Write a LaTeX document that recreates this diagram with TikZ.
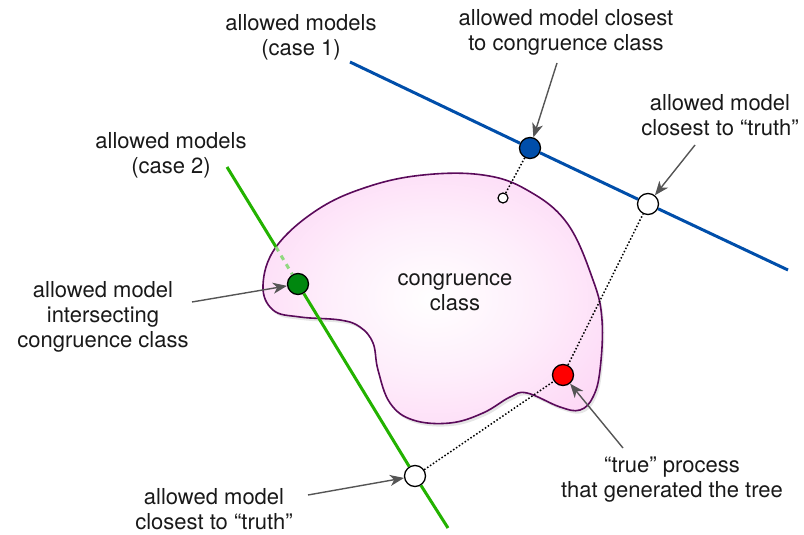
\documentclass[tikz,border=0pt]{standalone}
\usepackage{fontspec}
\setmainfont{TeX Gyre Heros}
\usetikzlibrary{arrows.meta,shadows}

\definecolor{modelblue}{RGB}{0,78,170}
\definecolor{modelgreen}{RGB}{35,178,0}
\definecolor{dotgreen}{RGB}{0,135,15}
\definecolor{blobedge}{RGB}{90,10,90}
\definecolor{blobfill}{RGB}{252,200,242}
\pgfdeclareradialshading{blobshade}{\pgfpoint{0bp}{0bp}}{%
  color(0bp)=(white); color(15bp)=(white!70!blobfill); color(42bp)=(blobfill); color(50bp)=(blobfill)}
\definecolor{pointgray}{RGB}{85,85,85}

\begin{document}
\begin{tikzpicture}[x=1pt,y=-1pt,>={Stealth[length=14pt,width=11pt,inset=4pt]},
    font=\fontsize{22}{25}\selectfont]
  \useasboundingbox (0,0) rectangle (804,535);
    \tikzset{dot/.style={circle,draw=black,line width=1.3pt,minimum size=21pt,inner sep=0pt}}
    \tikzset{label/.style={align=center,inner sep=0pt,text=black!90}}
    \tikzset{pointer/.style={->,draw=pointgray,line width=1.4pt}}
    \tikzset{proj/.style={dotted,line width=1.5pt}}

    % congruence class
    \path[draw=blobedge,line width=1.6pt,shading=blobshade,
      drop shadow={opacity=0.2,shadow xshift=2pt,shadow yshift=-3pt}]
      plot[smooth cycle,tension=0.65] coordinates {
        (263,285) (276,247) (317,210) (367,187) (423,175) (483,175) (527,190)
        (567,223) (593,280) (602,320) (600,370) (593,397) (580,410) (560,407)
        (527,393) (510,397) (483,413) (450,423) (413,420) (390,403) (378,370)
        (373,343) (360,327) (340,320) (300,317) (273,310)};

    \node[label] (cclass) at (455,292) {congruence\\class};

    \node[dot,fill=modelblue]  (bdot)   at (530,148) {};
    \node[dot,fill=white]      (wblue)  at (648,204) {};
    \node[dot,fill=dotgreen]   (gdot)   at (298,284) {};
    \node[dot,fill=white]      (wgreen) at (415,476) {};
    \node[dot,fill=red]        (rdot)   at (563,375) {};
    \node[circle,draw=black,line width=1.2pt,minimum size=10pt,inner sep=0pt,fill=white] (sdot) at (503,198) {};

    \coordinate (b1) at (350,62);
    \coordinate (b2) at (788,270);
    \coordinate (g1) at (227,167);
    \coordinate (gin) at (276,247);
    \coordinate (g2) at (448,528);

    % allowed models
    \draw[modelblue,line width=3pt] (b1) -- (bdot) -- (wblue) -- (b2);
    \draw[modelgreen,line width=3pt] (g1) -- (gin);
    \draw[modelgreen!50,line width=3pt,dash pattern=on 5pt off 5pt] (gin) -- (gdot);
    \draw[modelgreen,line width=3pt] (gdot) -- (wgreen) -- (g2);

    \draw[proj] (bdot) -- (sdot);
    \draw[proj] (wgreen) -- (rdot) -- (wblue);

    % labels
    \node[label] (case1)  at (301,37)  {allowed models\\(case 1)};
    \node[label] (case2)  at (171,155) {allowed models\\(case 2)};
    \node[label] (nearcc) at (566,32)  {allowed model closest\\to congruence class};
    \node[label] (truthA) at (720,115) {allowed model\\closest to “truth”};
    \node[label] (inter)  at (103,317) {allowed model\\intersecting\\congruence class};
    \node[label] (truthB) at (214,509) {allowed model\\closest to “truth”};
    \node[label] (truep)  at (672,480) {“true” process\\that generated the tree};

    \coordinate (t1) at (557,63);
    \coordinate (t2) at (695,145);
    \coordinate (t3) at (192,302);
    \coordinate (t4) at (308,495);
    \coordinate (t5) at (623,448);

    \path (t1) edge [pointer] (bdot)
      (t2) edge [pointer] (wblue)
      (t3) edge [pointer] (gdot)
      (t4) edge [pointer] (wgreen)
      (t5) edge [pointer] (rdot);
\end{tikzpicture}
\end{document}
